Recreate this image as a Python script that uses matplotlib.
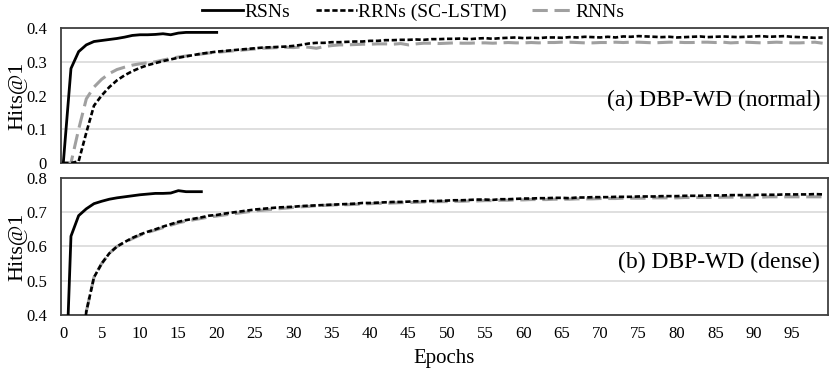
import matplotlib.pyplot as plt
import numpy as np

plt.rcParams['font.family'] = 'Liberation Serif'

# Hits@1 per epoch, DBP-WD normal
rsn_normal = [0, 0.28, 0.33, 0.35, 0.36, 0.363, 0.366, 0.369, 0.373, 0.378,
              0.38, 0.38, 0.381, 0.383, 0.38, 0.385, 0.387, 0.387, 0.387, 0.387, 0.387]
rrn_normal = [0, 0, 0.005, 0.09, 0.17, 0.2, 0.225, 0.245, 0.26, 0.272,
              0.282, 0.29, 0.296, 0.302, 0.307, 0.312, 0.316, 0.32, 0.324, 0.327,
              0.33, 0.332, 0.334, 0.336, 0.338, 0.34, 0.342, 0.343, 0.344, 0.345,
              0.347, 0.35, 0.354, 0.356, 0.356, 0.358, 0.358, 0.359, 0.36, 0.36,
              0.362, 0.362, 0.364, 0.364, 0.365, 0.365, 0.366, 0.365, 0.367, 0.367,
              0.368, 0.368, 0.369, 0.367, 0.369, 0.37, 0.368, 0.37, 0.371, 0.372,
              0.37, 0.371, 0.37, 0.372, 0.372, 0.371, 0.373, 0.372, 0.374, 0.373,
              0.372, 0.374, 0.372, 0.375, 0.374, 0.376, 0.375, 0.374, 0.373, 0.374,
              0.372, 0.373, 0.374, 0.375, 0.373, 0.374, 0.375, 0.374, 0.373, 0.374,
              0.375, 0.376, 0.374, 0.375, 0.376, 0.374, 0.373, 0.372, 0.371, 0.372]
rnn_normal = [0, 0, 0.1, 0.19, 0.225, 0.248, 0.265, 0.277, 0.284, 0.29,
              0.294, 0.297, 0.3, 0.305, 0.31, 0.314, 0.317, 0.32, 0.323, 0.326,
              0.328, 0.33, 0.332, 0.334, 0.336, 0.338, 0.34, 0.341, 0.342, 0.343,
              0.342, 0.344, 0.343, 0.34, 0.345, 0.348, 0.35, 0.35, 0.351, 0.352,
              0.352, 0.353, 0.353, 0.352, 0.354, 0.35, 0.353, 0.355, 0.355, 0.354,
              0.355, 0.356, 0.355, 0.355, 0.356, 0.356, 0.355, 0.356, 0.357, 0.356,
              0.356, 0.357, 0.356, 0.357, 0.357, 0.358, 0.358, 0.357, 0.356, 0.356,
              0.357, 0.357, 0.358, 0.357, 0.358, 0.358, 0.357, 0.356, 0.357, 0.358,
              0.358, 0.357, 0.357, 0.358, 0.358, 0.357, 0.358, 0.356, 0.357, 0.358,
              0.357, 0.356, 0.357, 0.358, 0.357, 0.356, 0.356, 0.357, 0.358, 0.355]

# DBP-WD dense
rsn_dense = [0, 0.63, 0.69, 0.71, 0.725, 0.732, 0.738, 0.742, 0.745, 0.748,
             0.751, 0.753, 0.755, 0.755, 0.756, 0.763, 0.76, 0.76, 0.76]
rrn_dense = [0, 0, 0.22, 0.41, 0.51, 0.55, 0.58, 0.6, 0.613, 0.625,
             0.635, 0.643, 0.65, 0.658, 0.665, 0.672, 0.677, 0.681, 0.685, 0.69,
             0.692, 0.696, 0.699, 0.702, 0.705, 0.708, 0.71, 0.712, 0.714, 0.715,
             0.716, 0.718, 0.719, 0.72, 0.721, 0.722, 0.723, 0.724, 0.725, 0.727,
             0.727, 0.728, 0.729, 0.73, 0.73, 0.731, 0.732, 0.732, 0.733, 0.733,
             0.734, 0.735, 0.735, 0.736, 0.737, 0.737, 0.736, 0.738, 0.738, 0.739,
             0.74, 0.74, 0.741, 0.741, 0.742, 0.742, 0.741, 0.743, 0.743, 0.744,
             0.744, 0.744, 0.745, 0.745, 0.745, 0.746, 0.746, 0.746, 0.747, 0.747,
             0.747, 0.748, 0.748, 0.748, 0.749, 0.749, 0.749, 0.75, 0.75, 0.75,
             0.75, 0.751, 0.751, 0.751, 0.752, 0.752, 0.752, 0.752, 0.753, 0.752]
rnn_dense = [0, 0, 0.22, 0.41, 0.51, 0.55, 0.58, 0.6, 0.612, 0.623,
             0.633, 0.641, 0.648, 0.655, 0.662, 0.669, 0.674, 0.678, 0.682, 0.686,
             0.689, 0.692, 0.695, 0.698, 0.701, 0.704, 0.706, 0.708, 0.71, 0.712,
             0.714, 0.716, 0.717, 0.719, 0.72, 0.721, 0.722, 0.722, 0.723, 0.724,
             0.725, 0.726, 0.726, 0.727, 0.728, 0.728, 0.729, 0.73, 0.73, 0.731,
             0.731, 0.732, 0.732, 0.733, 0.733, 0.734, 0.734, 0.735, 0.735, 0.736,
             0.736, 0.737, 0.737, 0.737, 0.738, 0.738, 0.738, 0.739, 0.739, 0.739,
             0.74, 0.74, 0.74, 0.741, 0.741, 0.741, 0.741, 0.742, 0.742, 0.742,
             0.742, 0.743, 0.743, 0.743, 0.743, 0.743, 0.744, 0.744, 0.744, 0.744,
             0.744, 0.744, 0.745, 0.745, 0.745, 0.745, 0.745, 0.745, 0.745, 0.745]

xticks = list(range(0, 100, 5))

fig = plt.figure(figsize=(8.31, 3.77), dpi=100)
ax1 = fig.add_axes([0.0734, 0.5676, 0.9230, 0.3581])
ax2 = fig.add_axes([0.0734, 0.1645, 0.9230, 0.3634])


def draw(ax, rsn, rrn, rnn, ylim, yticks, label, label_y):
    ax.plot(range(len(rnn)), rnn, color='#a0a0a0', lw=2.2, dashes=(5, 2.2),
            label='RNNs', zorder=3)
    ax.plot(range(len(rrn)), rrn, color='black', lw=1.9, dashes=(2, 1),
            label='RRNs (SC-LSTM)', zorder=4)
    ax.plot(range(len(rsn)), rsn, color='black', lw=2, label='RSNs', zorder=5)
    ax.set_xlim(-0.3, 99.7)
    ax.set_ylim(*ylim)
    ax.set_yticks(yticks)
    ax.set_yticklabels(['0' if t == 0 else f'{t:g}' for t in yticks])
    ax.set_xticks(xticks)
    ax.grid(axis='y', color='#d9d9d9', lw=1.2)
    ax.set_axisbelow(True)
    ax.tick_params(length=0, labelsize=12)
    ax.tick_params(axis='y', pad=10)
    for s in ax.spines.values():
        s.set_color('#404040')
        s.set_linewidth(1.3)
    ax.set_ylabel('Hits@1', fontsize=16, labelpad=-1)
    ax.text(0.99, label_y, label, transform=ax.transAxes, ha='right',
            va='center', fontsize=17)


draw(ax1, rsn_normal, rrn_normal, rnn_normal, (0, 0.4), [0, 0.1, 0.2, 0.3, 0.4],
     '(a) DBP-WD (normal)', 0.46)
draw(ax2, rsn_dense, rrn_dense, rnn_dense, (0.4, 0.8), [0.4, 0.5, 0.6, 0.7, 0.8],
     '(b) DBP-WD (dense)', 0.38)
ax1.tick_params(labelbottom=False)
ax2.tick_params(axis='x', pad=8)
ax2.set_xlabel('Epochs', fontsize=15, labelpad=5)

h, l = ax1.get_legend_handles_labels()
order = [2, 1, 0]
fig.legend([h[i] for i in order], [l[i] for i in order], loc='center',
           bbox_to_anchor=(0.497, 0.968), ncol=3, frameon=False, fontsize=14,
           handlelength=2.1, handletextpad=0.1, columnspacing=1.3)

fig.savefig('out.png', dpi=100)
